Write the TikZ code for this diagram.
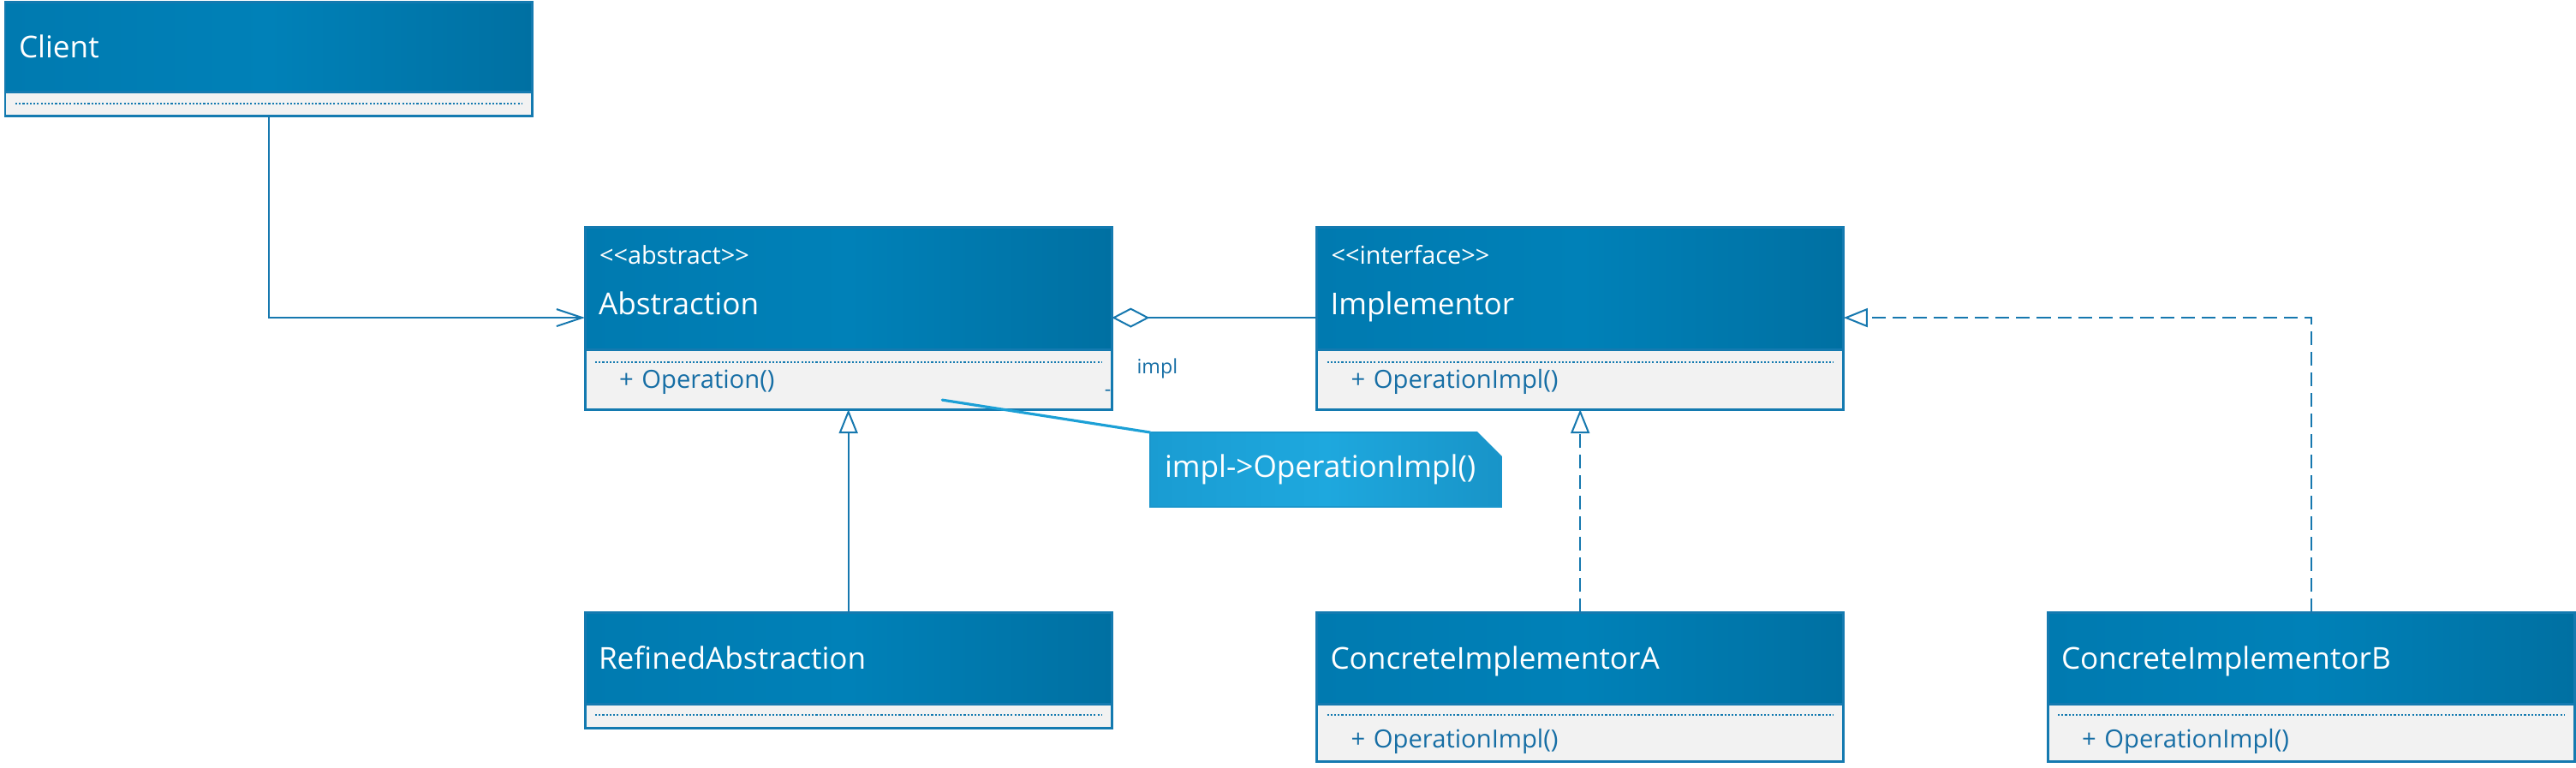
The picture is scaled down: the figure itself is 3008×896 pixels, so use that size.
\documentclass[tikz,border=0pt]{standalone}
\usepackage{fontspec}
\setmainfont{Open Sans}[Ligatures=TeXOff]
\usepackage{tikz}
\usetikzlibrary{positioning,arrows.meta,shapes}

\definecolor{clsline}{RGB}{20,122,176}
\definecolor{hdleft}{RGB}{0,122,176}
\definecolor{hdmid}{RGB}{0,129,184}
\definecolor{hdright}{RGB}{0,112,162}
\definecolor{bodyfill}{RGB}{242,242,242}
\definecolor{membertxt}{RGB}{22,110,165}
\definecolor{conn}{RGB}{22,120,175}
\definecolor{noteleft}{RGB}{26,156,210}
\definecolor{notemid}{RGB}{30,168,222}
\definecolor{noteright}{RGB}{24,148,200}
\definecolor{noteedge}{RGB}{26,150,204}
\definecolor{notelinkcol}{RGB}{28,160,214}

\begin{document}
\begin{tikzpicture}[x=0.01cm, y=-0.01cm, line width=0.57pt,
    head/.style={draw=clsline, line width=0.85pt, left color=hdleft, right color=hdright, middle color=hdmid,
      text=white, font=\fontsize{10}{12}\selectfont, minimum width=6.15cm, text width=5.83cm,
      inner xsep=0.16cm, inner ysep=0pt, align=left, outer sep=0pt, text height=9.3pt, text depth=2.2pt},
    body/.style={draw=clsline, line width=0.85pt, fill=bodyfill, text=membertxt,
      font=\fontsize{8.3}{10}\selectfont, minimum width=6.15cm, text width=5.35cm,
      inner xsep=0.40cm, inner ysep=0pt, align=left, outer sep=0pt, text height=8pt, text depth=2pt},
    emptybody/.style={body, text height=0pt, text depth=0pt},
    stereo/.style={text=white, font=\fontsize{8.2}{10}\selectfont, inner sep=0pt, anchor=base west},
    sepline/.style={draw=clsline, line width=0.5pt, dash pattern=on 0.6pt off 0.6pt},
    assoc/.style={draw=conn, -{Straight Barb[length=0.3cm, width=0.2cm]}},
    aggr/.style={draw=conn, -{Diamond[open, length=0.44cm, width=0.23cm]}},
    gen/.style={draw=conn, -{Triangle[open, length=0.28cm, width=0.22cm]}},
    realize/.style={gen, dash pattern=on 0.16cm off 0.08cm},
    notebox/.style={draw=noteedge, line width=0.6pt, left color=noteleft, right color=noteright, middle color=notemid,
      text=white, font=\fontsize{10}{12}\selectfont, minimum width=4.1cm, minimum height=0.87cm,
      text width=3.76cm, inner xsep=0.17cm, align=left, outer sep=0pt, anchor=north west},
    notelink/.style={draw=notelinkcol, line width=0.9pt, line cap=round},
    rolelbl/.style={text=membertxt, font=\fontsize{6.6}{8}\selectfont, inner sep=0pt}]

    \useasboundingbox (0,0) rectangle (3008,896);

    % classes
    \node[head, anchor=north west, minimum height=1.05cm] (client) at (6,2) {Client};
    \node[emptybody, below=0pt of client, minimum height=0.28cm] (clientBody) {};

    \node[head, anchor=north west, minimum height=1.43cm, text height=19.8pt] (abs) at (683,265) {Abstraction};
    \node[body, below=0pt of abs, minimum height=0.70cm] (absBody) {+ Operation()};
    \node[stereo] (absStereo) at ([xshift=0.16cm, yshift=-0.43cm]abs.north west) {<<abstract>>};

    \node[head, right=2.39cm of abs, minimum height=1.43cm, text height=19.8pt] (impl) {Implementor};
    \node[body, below=0pt of impl, minimum height=0.70cm] (implBody) {+ OperationImpl()};
    \node[stereo] (implStereo) at ([xshift=0.16cm, yshift=-0.43cm]impl.north west) {<<interface>>};

    \node[head, below=2.37cm of absBody, minimum height=1.07cm] (refined) {RefinedAbstraction};
    \node[emptybody, below=0pt of refined, minimum height=0.28cm] (refinedBody) {};

    \node[head, below=2.37cm of implBody, minimum height=1.07cm] (cia) {ConcreteImplementorA};
    \node[body, below=0pt of cia, minimum height=0.67cm, text height=12pt] (ciaBody) {+ OperationImpl()};

    \node[head, right=2.38cm of cia, minimum height=1.07cm] (cib) {ConcreteImplementorB};
    \node[body, below=0pt of cib, minimum height=0.67cm, text height=12pt] (cibBody) {+ OperationImpl()};

    % compartment separators
    \draw[sepline] ([xshift=0.12cm, yshift=-0.14cm]clientBody.north west) -- ([xshift=-0.12cm, yshift=-0.14cm]clientBody.north east);
    \draw[sepline] ([xshift=0.12cm, yshift=-0.15cm]absBody.north west) -- ([xshift=-0.12cm, yshift=-0.15cm]absBody.north east);
    \draw[sepline] ([xshift=0.12cm, yshift=-0.15cm]implBody.north west) -- ([xshift=-0.12cm, yshift=-0.15cm]implBody.north east);
    \draw[sepline] ([xshift=0.12cm, yshift=-0.13cm]refinedBody.north west) -- ([xshift=-0.12cm, yshift=-0.13cm]refinedBody.north east);
    \draw[sepline] ([xshift=0.12cm, yshift=-0.13cm]ciaBody.north west) -- ([xshift=-0.12cm, yshift=-0.13cm]ciaBody.north east);
    \draw[sepline] ([xshift=0.12cm, yshift=-0.13cm]cibBody.north west) -- ([xshift=-0.12cm, yshift=-0.13cm]cibBody.north east);

    % note
    \node[notebox] (note) at (1343,505) {impl->OperationImpl()};
    \fill[white] ([xshift=-0.3cm, yshift=0.03cm]note.north east) -- ([xshift=0.03cm, yshift=0.03cm]note.north east) -- ([xshift=0.03cm, yshift=-0.3cm]note.north east) -- cycle;
    \draw[noteedge, line width=0.6pt] ([xshift=-0.3cm]note.north east) -- ([yshift=-0.3cm]note.north east);
    \coordinate (opLink) at ([xshift=4.17cm, yshift=0.11cm]absBody.south west);
    \draw[notelink] (opLink) -- (note.north west);

    % relations
    \draw[assoc] (clientBody.south) |- ([yshift=-0.345cm]abs.west);
    \draw[aggr] ([yshift=-0.345cm]impl.west) -- ([yshift=-0.345cm]abs.east);
    \node[rolelbl] (implRole) at ([xshift=0.53cm, yshift=-0.94cm]abs.east) {impl};
    \node[rolelbl, anchor=east] (implVis) at ([yshift=-1.22cm]abs.east) {-};
    \draw[gen] (refined.north) -- (absBody.south);
    \draw[realize] (cia.north) -- (implBody.south);
    \draw[realize] (cib.north) |- ([yshift=-0.345cm]impl.east);

\end{tikzpicture}
\end{document}
